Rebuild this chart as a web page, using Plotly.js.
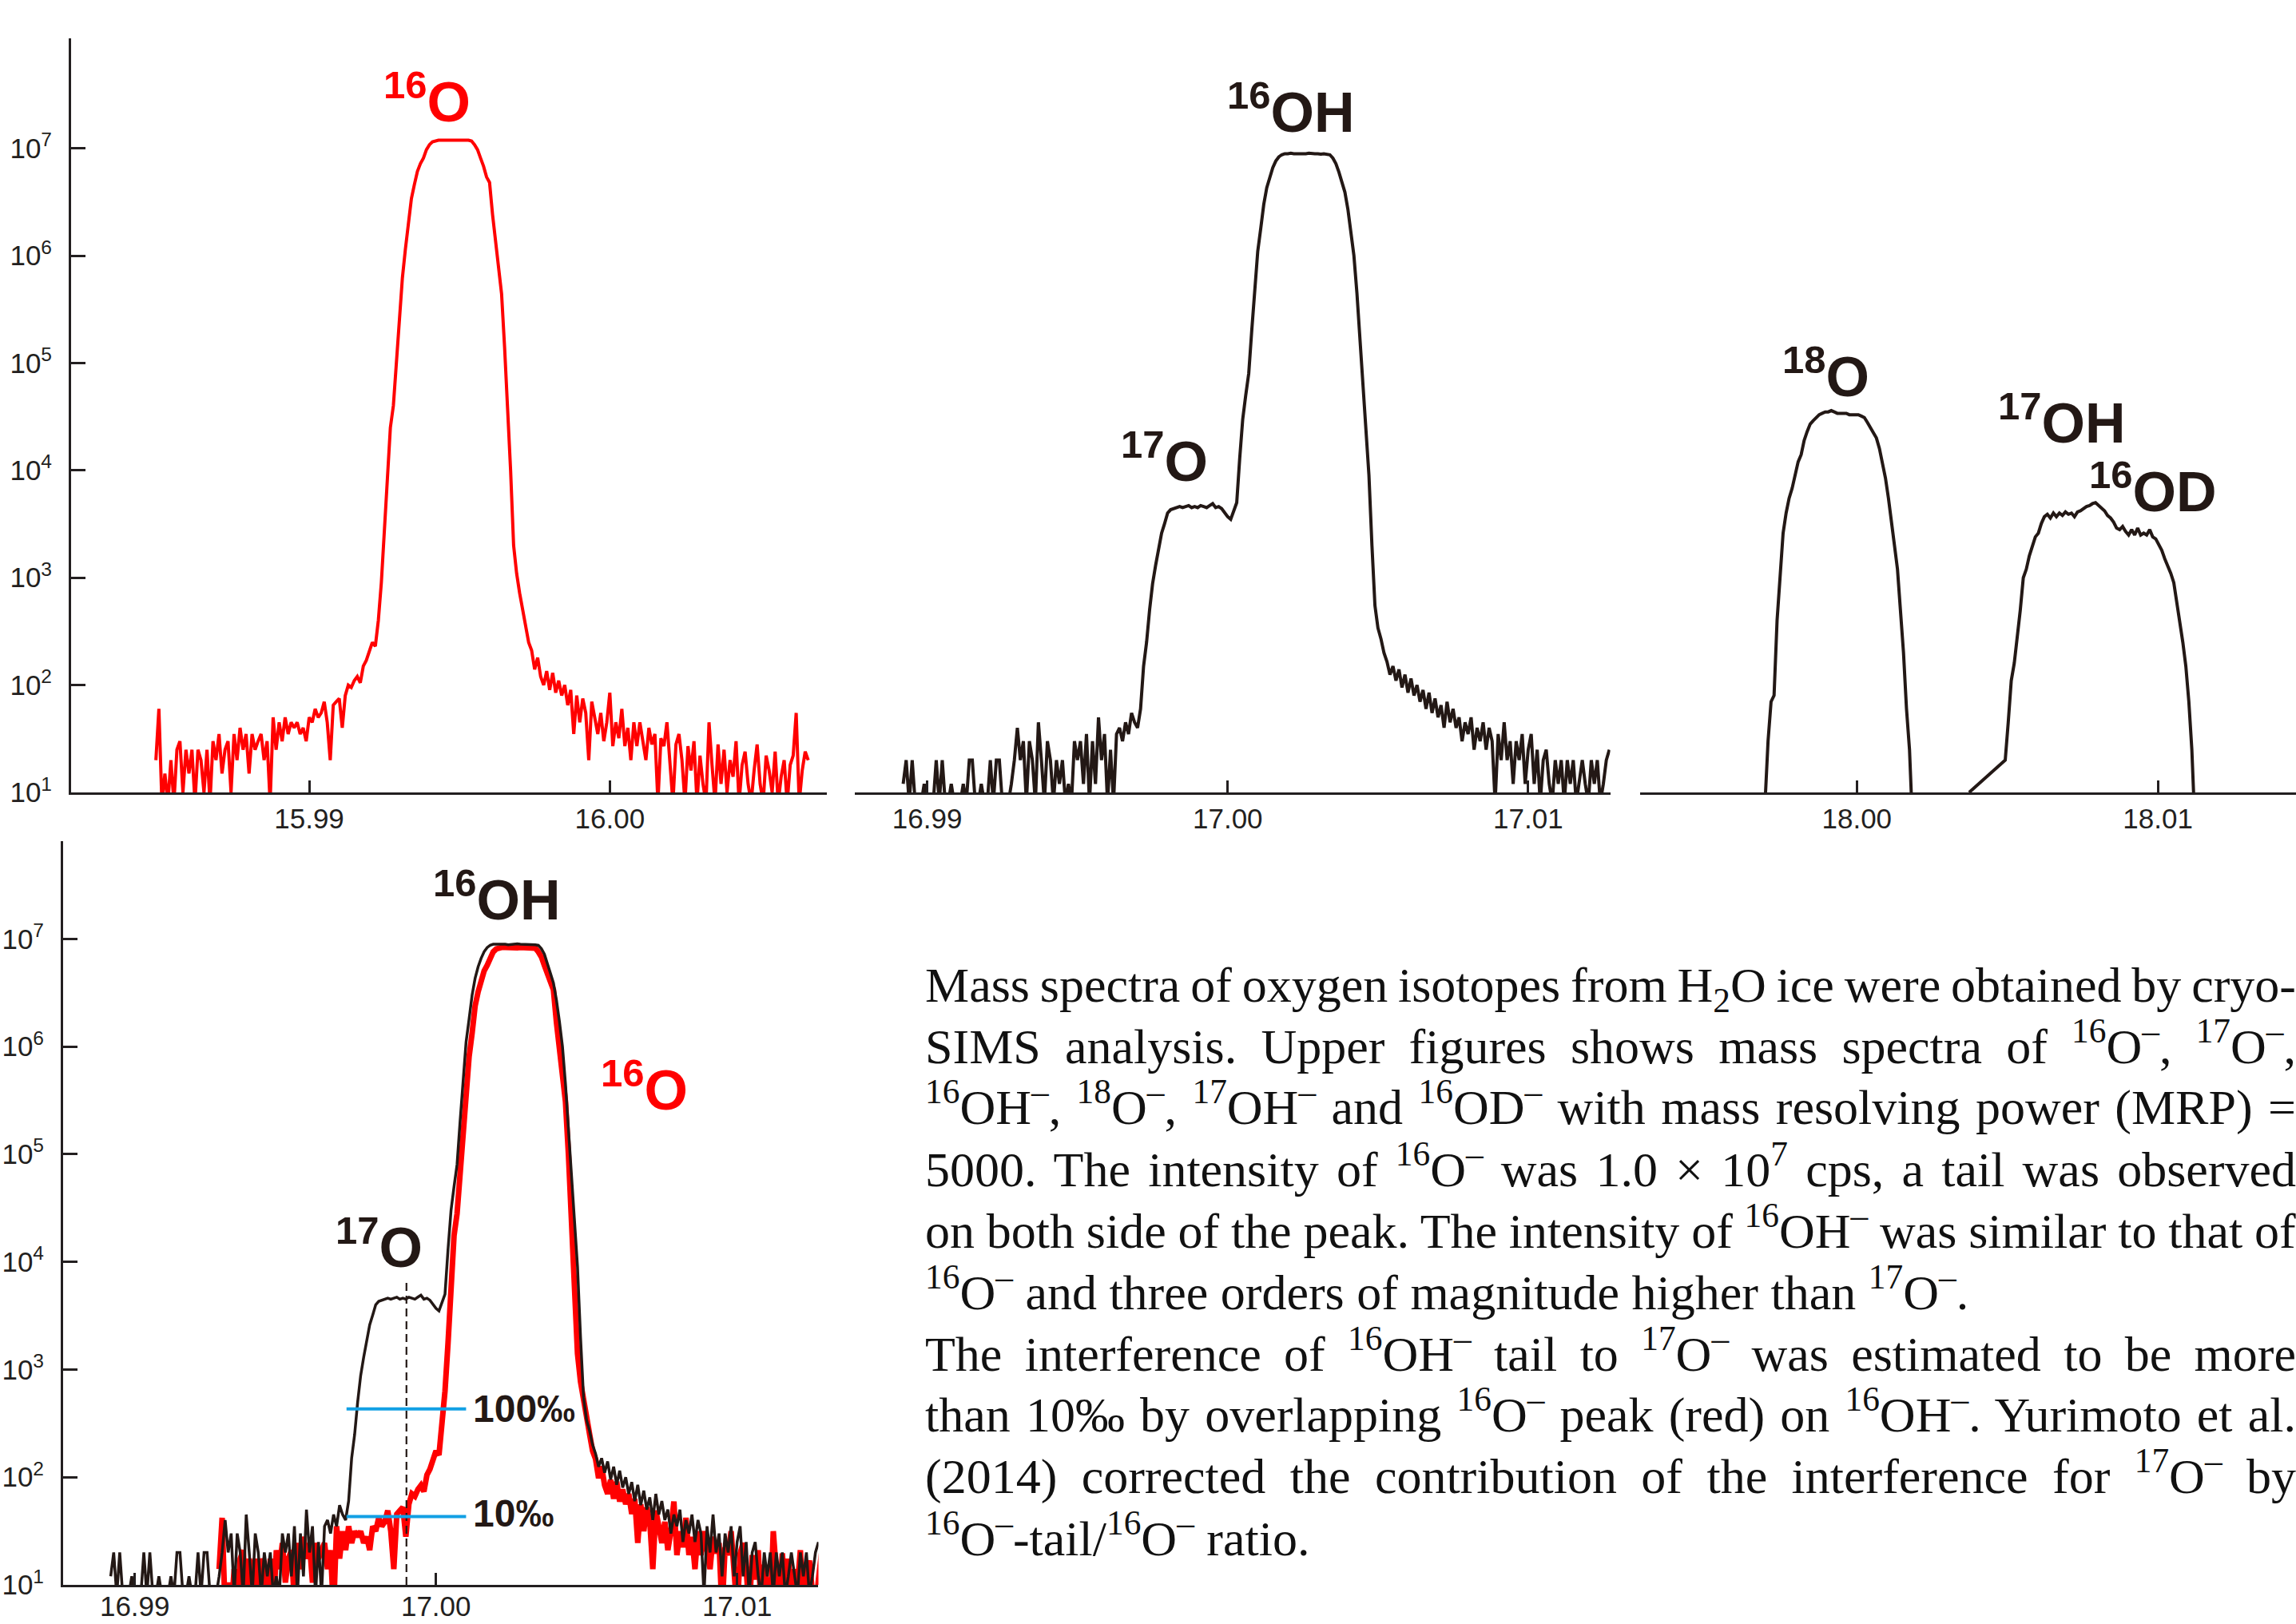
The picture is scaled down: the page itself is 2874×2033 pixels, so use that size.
<!DOCTYPE html>
<html>
<head>
<meta charset="utf-8">
<script src="https://cdn.plot.ly/plotly-3.0.1.min.js"></script>
<style>
html,body{margin:0;padding:0;background:#fff;overflow:hidden;}
#plot{width:2874px;height:2033px;}
</style>
</head>
<body>
<div id="plot"></div>
<script>
// ---- DATA (counts per second on the scan channel grid) ----
// 16O- spectrum (upper left)
const o16Start = 15.9849, o16Step = 0.0001;
const o16Counts = [
20,60,8,15,8,20,8,25,30,10,
25,15,25,8,25,20,10,25,8,30,
20,35,15,25,30,10,35,20,40,25,
35,15,35,25,30,35,20,30,8,50,
25,45,30,50,35,45,40,45,35,40,
30,50,45,60,50,55,70,45,20,65,
70,75,40,80,100,95,110,120,105,150,
170,210,250,230,400,900,2500,8000,25000,40000,
1e5,2.5e5,6.2e5,1.15e6,1.9e6,3.4e6,4.6e6,6.1e6,7.2e6,8.1e6,
9.7e6,1.08e7,1.15e7,1.18e7,1.19e7,1.19e7,1.18e7,1.19e7,1.19e7,1.18e7,
1.19e7,1.19e7,1.18e7,1.19e7,1.19e7,1.17e7,1.08e7,9.7e6,8.1e6,6.8e6,
5.4e6,4.8e6,2.4e6,1.4e6,7.8e5,4.4e5,1.4e5,3.9e4,1.0e4,2000,
1100,720,500,360,250,210,140,180,120,100,
135,90,130,85,110,80,100,65,90,35,
80,45,75,55,20,70,50,35,55,30,
45,85,27,45,32,60,27,40,20,45,
27,45,30,20,40,28,35,8,32,27,
45,20,8,28,35,20,8,27,16,30,
8,22,12,8,45,18,8,28,12,25,
10,20,14,30,8,18,24,12,8,16,
28,12,8,22,16,10,24,8,14,20,
8,18,22,55,8,16,24,20
];
// 17O- + 16OH- spectrum (upper middle, and black trace of lower panel)
const oh16Start = 16.9892, oh16Step = 0.0001;
const oh16Counts = [
12,20,8,20,8,8,8,12,8,8,
8,20,8,20,8,8,12,8,8,8,
12,8,20,20,8,8,12,8,8,20,
8,20,20,8,8,8,12,20,40,20,
30,8,30,20,8,45,20,8,30,20,
8,20,12,20,8,12,8,30,20,30,
12,35,8,30,12,50,20,35,8,25,
8,35,40,30,45,35,55,45,40,60,
150,250,500,880,1300,1900,2600,3200,4000,4300,
4400,4500,4600,4500,4600,4700,4500,4600,4500,4700,
4600,4500,4700,4900,4500,4600,4400,4000,3700,3500,
4200,5000,1.3e4,3e4,5e4,8e4,2e5,4.5e5,1.1e6,1.8e6,
3e6,4.3e6,5.5e6,6.6e6,7.6e6,8.3e6,8.7e6,8.9e6,8.9e6,9.0e6,
8.9e6,8.9e6,8.8e6,8.9e6,8.9e6,9.0e6,8.9e6,8.9e6,8.9e6,8.8e6,
8.9e6,8.8e6,8.7e6,8.1e6,7.2e6,6.0e6,4.8e6,3.9e6,2.7e6,1.7e6,
1.0e6,4.5e5,1.7e5,7e4,2.2e4,9e3,2000,550,340,270,
200,165,125,150,110,140,95,125,85,115,
80,100,70,90,60,85,55,75,50,65,
40,70,45,60,40,50,30,45,35,50,
25,40,30,45,25,40,30,8,35,20,
45,20,30,12,30,20,35,12,25,35,
12,25,8,20,25,12,8,20,12,20,
8,20,12,20,8,12,20,12,8,20,
12,20,8,12,20,25
];
// 18O- spectrum (upper right)
const o18Start = 17.99695, o18Step = 0.0001;
const o18Counts = [
8,30,70,80,400,1100,2600,4000,5500,6800,
9000,1.2e4,1.4e4,1.9e4,2.3e4,2.7e4,2.9e4,3.1e4,3.3e4,3.4e4,
3.5e4,3.5e4,3.6e4,3.5e4,3.4e4,3.4e4,3.4e4,3.4e4,3.3e4,3.3e4,
3.3e4,3.3e4,3.2e4,3.1e4,2.8e4,2.5e4,2.2e4,2.0e4,1.6e4,1.2e4,
8500,5500,3500,2000,1200,500,200,60,25,5
];
// 17OH- / 16OD- spectrum (upper right); null = channels not recorded
const oh17Start = 18.00373, oh17Step = 0.0001;
const oh17Counts = [
10,null,null,null,null,null,null,null,null,null,null,null,
20,45,110,160,280,500,1000,1200,1600,2000,
2400,2600,3200,3700,3900,3600,4000,3700,4000,3800,
4100,3900,4000,3700,4100,4200,4400,4600,4700,4900,
5000,4700,4500,4200,3800,3600,3300,2900,2800,3000,
2700,2500,2800,2500,2900,2500,2600,2500,2800,2400,
2300,2000,1800,1500,1300,1100,900,600,400,250,
150,70,25,5
];
// overlay of the 16O- peak on 16OH- (lower panel)
const o16OverlayShift = 1.0079;
const o16OverlayScale = 0.70;
// 17O- peak position and tail ratio levels (100 permil, 10 permil of 17O-)
const o17PeakMass = 16.99902;
const o17MarkTop = 6900;
const ratioLevels = [430, 43];
const ratioLabels = ['100‰', '10‰'];
const ratioSpan = [16.99703, 17.00100];

// tick labels
const xTicksTL = [15.99, 16.00], xTickTextTL = ['15.99', '16.00'];
const xTicksTM = [16.99, 17.00, 17.01], xTickTextTM = ['16.99', '17.00', '17.01'];
const xTicksTR = [18.00, 18.01], xTickTextTR = ['18.00', '18.01'];
const yTicks = [1e1, 1e2, 1e3, 1e4, 1e5, 1e6, 1e7];
const yTickText = ['10<sup>1</sup>','10<sup>2</sup>','10<sup>3</sup>','10<sup>4</sup>','10<sup>5</sup>','10<sup>6</sup>','10<sup>7</sup>'];

// caption lines (justified = true except paragraph ends)
const captionLines = [
  'Mass spectra of oxygen isotopes from H<sub>2</sub>O ice were obtained by cryo-',
  'SIMS analysis. Upper figures shows mass spectra of <sup>16</sup>O<sup>–</sup>, <sup>17</sup>O<sup>–</sup>,',
  '<sup>16</sup>OH<sup>–</sup>, <sup>18</sup>O<sup>–</sup>, <sup>17</sup>OH<sup>–</sup> and <sup>16</sup>OD<sup>–</sup> with mass resolving power (MRP) =',
  '5000. The intensity of <sup>16</sup>O<sup>–</sup> was 1.0 × 10<sup>7</sup> cps, a tail was observed',
  'on both side of the peak. The intensity of <sup>16</sup>OH<sup>–</sup> was similar to that of',
  '<sup>16</sup>O<sup>–</sup> and three orders of magnitude higher than <sup>17</sup>O<sup>–</sup>.',
  'The interference of <sup>16</sup>OH<sup>–</sup> tail to <sup>17</sup>O<sup>–</sup> was estimated to be more',
  'than 10‰ by overlapping <sup>16</sup>O<sup>–</sup> peak (red) on <sup>16</sup>OH<sup>–</sup>. Yurimoto et al.',
  '(2014) corrected the contribution of the interference for <sup>17</sup>O<sup>–</sup> by',
  '<sup>16</sup>O<sup>–</sup>-tail/<sup>16</sup>O<sup>–</sup> ratio.'
];
const captionJustify = [true, true, true, true, true, false, true, true, true, false];

// ---- BUILD ----
function channels(start, step, n) {
  const m = [];
  for (let i = 0; i < n; i++) m.push(+(start + i * step).toFixed(6));
  return m;
}
const o16Mass = channels(o16Start, o16Step, o16Counts.length);
const oh16Mass = channels(oh16Start, oh16Step, oh16Counts.length);
const o18Mass = channels(o18Start, o18Step, o18Counts.length);
const oh17Mass = channels(oh17Start, oh17Step, oh17Counts.length);

const RED = '#ff0000', BLK = '#231815', BLUE = '#12a0e4', AX = '#231f20';

const traces = [
  {x: o16Mass, y: o16Counts, xaxis: 'x', yaxis: 'y', mode: 'lines', line: {color: RED, width: 4}},
  {x: oh16Mass, y: oh16Counts, xaxis: 'x2', yaxis: 'y2', mode: 'lines', line: {color: BLK, width: 4}},
  {x: o18Mass, y: o18Counts, xaxis: 'x3', yaxis: 'y3', mode: 'lines', line: {color: BLK, width: 4}},
  {x: oh17Mass, y: oh17Counts, xaxis: 'x3', yaxis: 'y3', mode: 'lines', connectgaps: true, line: {color: BLK, width: 4}},
  {x: o16Mass.map(m => m + o16OverlayShift), y: o16Counts.map(c => c * o16OverlayScale), xaxis: 'x4', yaxis: 'y4', mode: 'lines', line: {color: RED, width: 7}},
  {x: oh16Mass, y: oh16Counts, xaxis: 'x4', yaxis: 'y4', mode: 'lines', line: {color: BLK, width: 3.5}},
  {x: [o17PeakMass, o17PeakMass], y: [10, o17MarkTop], xaxis: 'x4', yaxis: 'y4', mode: 'lines', line: {color: BLK, width: 2.2, dash: '10px,6px'}}
];
ratioLevels.forEach(v => traces.push({x: ratioSpan, y: [v, v], xaxis: 'x4', yaxis: 'y4', mode: 'lines', line: {color: BLUE, width: 4}}));

const xBase = {showline: true, linecolor: AX, linewidth: 3, ticks: 'inside', ticklen: 15, tickwidth: 3, tickcolor: AX,
  showgrid: false, zeroline: false, tickmode: 'array', tickfont: {size: 35, color: AX}, ticklabelstandoff: 0};
const yBase = {type: 'log', showline: true, linecolor: AX, linewidth: 3, ticks: 'inside', ticklen: 18, tickwidth: 3, tickcolor: AX,
  showgrid: false, zeroline: false, tickmode: 'array', tickvals: yTicks, ticktext: yTickText, tickfont: {size: 35, color: AX}, ticklabelstandoff: 14};
const topDom = [0.51205, 0.97639];

const LF = 'Liberation Sans, Arial, Helvetica, sans-serif';
const SF = 'Liberation Serif, Times New Roman, serif';
function lab(text, x, y, color, size, xanchor) {
  return {text: '<b>' + text + '</b>', xref: 'paper', yref: 'paper', x: x, y: y, xanchor: xanchor || 'center', yanchor: 'middle',
    showarrow: false, font: {family: LF, size: size || 70, color: color}};
}

const annotations = [
  lab('<sup>16</sup>O', 0.18615, 0.93950, RED),
  lab('<sup>16</sup>OH', 0.56228, 0.93286, BLK),
  lab('<sup>17</sup>O', 0.50696, 0.71815, BLK),
  lab('<sup>18</sup>O', 0.79506, 0.77029, BLK),
  lab('<sup>17</sup>OH', 0.89805, 0.74176, BLK),
  lab('<sup>16</sup>OD', 0.93772, 0.69946, BLK),
  lab('<sup>16</sup>OH', 0.21642, 0.44811, BLK),
  lab('<sup>16</sup>O', 0.28079, 0.33104, RED),
  lab('<sup>17</sup>O', 0.16493, 0.23414, BLK),
  lab(ratioLabels[0], 0.20529, 0.13232, BLK, 48, 'left'),
  lab(ratioLabels[1], 0.20529, 0.06788, BLK, 48, 'left')
];
const capStart = annotations.length;
const H = 2033, W = 2874;
captionLines.forEach(function (t, k) {
  const base = 1254 + 77 * k;
  const bottom = base + (k === 0 ? 24.4 : 15.4);
  annotations.push({text: t, xref: 'paper', yref: 'paper', x: 1156 / W, y: 1 - bottom / H, xanchor: 'left', yanchor: 'bottom',
    align: 'left', showarrow: false, font: {family: SF, size: 62, color: '#111111'}});
});

const layout = {
  width: W, height: H, margin: {l: 0, r: 0, t: 0, b: 0},
  paper_bgcolor: '#ffffff', plot_bgcolor: 'rgba(0,0,0,0)', showlegend: false,
  font: {family: LF, color: AX},
  xaxis: Object.assign({}, xBase, {domain: [0.03097, 0.36013], range: [15.98208, 16.00722], tickvals: xTicksTL, ticktext: xTickTextTL, anchor: 'y'}),
  yaxis: Object.assign({}, yBase, {domain: topDom, range: [1, 8.024], anchor: 'x'}),
  xaxis2: Object.assign({}, xBase, {domain: [0.37230, 0.70132], range: [16.98759, 17.01273], tickvals: xTicksTM, ticktext: xTickTextTM, anchor: 'y2'}),
  yaxis2: Object.assign({}, yBase, {domain: topDom, range: [1, 8.024], anchor: 'x2', visible: false}),
  xaxis3: Object.assign({}, xBase, {domain: [0.71434, 1.0], range: [17.9928, 18.01459], tickvals: xTicksTR, ticktext: xTickTextTR, anchor: 'y3'}),
  yaxis3: Object.assign({}, yBase, {domain: topDom, range: [1, 8.024], anchor: 'x3', visible: false}),
  xaxis4: Object.assign({}, xBase, {domain: [0.02749, 0.35647], range: [16.98762, 17.0127], tickvals: xTicksTM, ticktext: xTickTextTM, anchor: 'y4', ticklabelstandoff: -6}),
  yaxis4: Object.assign({}, yBase, {domain: [0.02410, 0.48205], range: [1, 7.907], anchor: 'x4'}),
  annotations: annotations
};

Plotly.newPlot('plot', traces, layout, {staticPlot: true, displayModeBar: false}).then(function () {
  // justify the caption lines to the text block width
  const target = 1716;
  captionLines.forEach(function (t, k) {
    if (!captionJustify[k]) return;
    const g = document.querySelector('#plot .annotation[data-index="' + (capStart + k) + '"] text.annotation-text');
    if (!g) return;
    const w = g.getBBox().width;
    const n = (g.textContent.match(/[ \u00a0]/g) || []).length;
    if (n > 0) g.style.wordSpacing = ((target - w) / n) + 'px';
  });
});
</script>
</body>
</html>
